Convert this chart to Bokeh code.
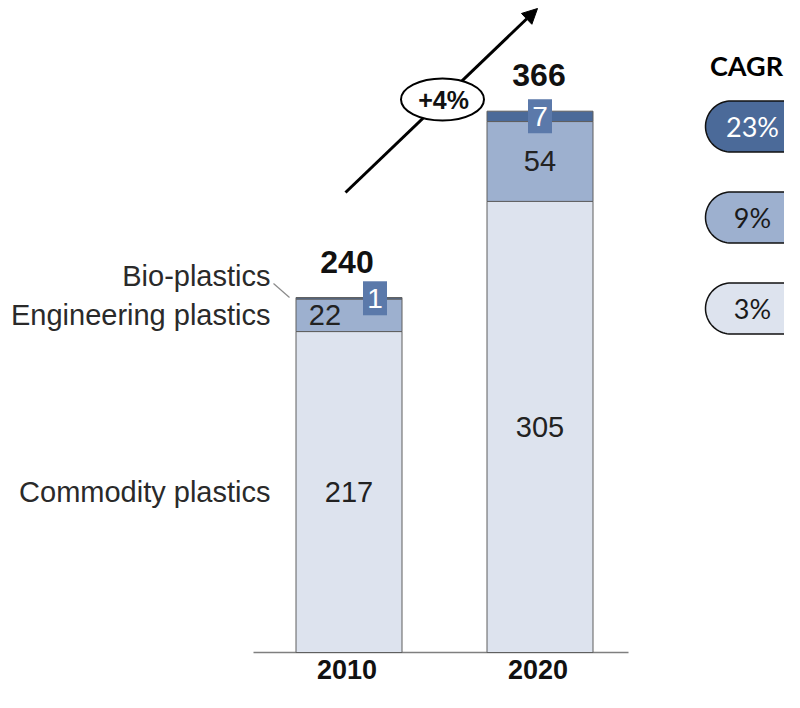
import numpy as np
from bokeh.plotting import figure
from bokeh.models import Range1d, Arrow, NormalHead, ColumnDataSource
from bokeh.core.properties import value
from bokeh.embed import file_html
from bokeh.resources import INLINE

# ---------------- data ----------------
years = ["2010", "2020"]
segment_names = ["Commodity plastics", "Engineering plastics", "Bio-plastics"]
commodity = [217, 305]
engineering = [22, 54]
bio = [1, 7]
totals = [240, 366]
growth_label = "+4%"
cagr_title = "CAGR"
cagr_labels = ["23%", "9%", "3%"]   # bio, engineering, commodity

# ---------------- layout ----------------
W, H = 784, 692
PX = 1.479            # pixels per Mt
BASE = 652            # canvas y of baseline
def v(sy):            # canvas y -> data value
    return (BASE - sy) / PX

FONT = value("Liberation Sans")
CFONT = value("Lato")
C_COM, C_ENG, C_BIO = "#dde3ee", "#9db0cf", "#4b6a99"
C_BOX = "#5b79aa"

p = figure(width=W, height=H, output_backend="svg", toolbar_location=None,
           x_range=Range1d(0, W), y_range=Range1d(v(H), v(0)),
           min_border=0)
p.axis.visible = False
p.xgrid.visible = False
p.ygrid.visible = False
p.outline_line_color = None
p.background_fill_color = "white"

bar_x = [348.5, 539.5]
src = ColumnDataSource(dict(x=bar_x, commodity=commodity, engineering=engineering, bio=bio))

# arrow (under everything)
arrow = Arrow(end=NormalHead(size=15, fill_color="black", line_color="black"),
              x_start=345, y_start=v(192), x_end=537, y_end=v(8),
              line_width=3, line_color="black", level="underlay")
p.add_layout(arrow)

# baseline
p.segment(x0=[253], x1=[628], y0=[0], y1=[0], line_color="#7f7f7f", line_width=1.5)

# stacked bars
p.vbar_stack(["commodity", "engineering", "bio"], x="x", width=106, source=src,
             fill_color=[C_COM, C_ENG, C_BIO], line_color="#5f5f5f", line_width=1)

# segment values
com_mid = [c / 2 for c in commodity]
eng_mid = [c + e / 2 for c, e in zip(commodity, engineering)]
bio_mid = [c + e + b / 2 for c, e, b in zip(commodity, engineering, bio)]
p.text(x=bar_x, y=com_mid, text=[str(c) for c in commodity], text_font=FONT,
       text_font_size="29px", text_color="#222222", text_align="center", text_baseline="middle")
p.text(x=[bar_x[0] - 24, bar_x[1]], y=eng_mid, text=[str(e) for e in engineering], text_font=FONT,
       text_font_size="29px", text_color="#222222", text_align="center", text_baseline="middle")
box_x = [bar_x[0] + 26, bar_x[1]]
p.rect(x=box_x, y=bio_mid, width=24, height=34, width_units="screen", height_units="screen",
       fill_color=C_BOX, line_color=None)
p.text(x=box_x, y=bio_mid, text=[str(b) for b in bio], text_font=FONT,
       text_font_size="28px", text_color="white", text_align="center", text_baseline="middle")

# totals
p.text(x=[bar_x[0] - 2, bar_x[1] - 1], y=totals, y_offset=-36, text=[str(t) for t in totals],
       text_font=FONT, text_font_size="32px", text_font_style="bold", text_color="#111111",
       text_align="center", text_baseline="middle")

# year labels
p.text(x=[bar_x[0] - 2, bar_x[1] - 2], y=[0, 0], y_offset=17, text=years, text_font=FONT,
       text_font_size="27px", text_font_style="bold", text_color="#111111",
       text_align="center", text_baseline="middle")

# left category labels
p.text(x=[270, 270, 270], y=[com_mid[0], eng_mid[0], totals[0]], y_offset=[0, 0, -22],
       text=segment_names, text_font=FONT, text_font_size="29px", text_color="#2a2a2a",
       text_align="right", text_baseline="middle")
p.segment(x0=[273], y0=[totals[0] + 14 / PX], x1=[289], y1=[totals[0]],
          line_color="#8a8a8a", line_width=1.2)

# growth ellipse
p.ellipse(x=[442], y=[v(99)], width=83, height=42, width_units="screen", height_units="screen",
          fill_color="white", line_color="black", line_width=2)
p.text(x=[443], y=[v(99)], text=[growth_label], text_font=FONT, text_font_size="25px",
       text_font_style="bold", text_color="#111111", text_align="center", text_baseline="middle")

# CAGR pills
p.text(x=[746], y=[v(65)], text=[cagr_title], text_font=CFONT, text_font_size="27px",
       text_font_style="bold", text_color="black", text_align="center", text_baseline="middle")
pill_cy = [126, 217, 308]
pill_fill = [C_BIO, C_ENG, C_COM]
pill_text = ["white", "#1a1a1a", "#1a1a1a"]
R = 25.5
L, RR = 705, 830
xs_all, ys_all = [], []
for cy in pill_cy:
    t1 = np.linspace(np.pi / 2, 3 * np.pi / 2, 40)
    t2 = np.linspace(-np.pi / 2, np.pi / 2, 40)
    sx = np.concatenate([L + R + R * np.cos(t1), RR - R + R * np.cos(t2)])
    sy = np.concatenate([cy - R * np.sin(t1), cy - R * np.sin(t2)])
    xs_all.append(list(sx))
    ys_all.append(list(v(sy)))
p.patches(xs=xs_all, ys=ys_all, fill_color=pill_fill, line_color="#111111", line_width=1.5)
p.text(x=[752] * 3, y=[v(c) for c in pill_cy], text=cagr_labels, text_font=CFONT,
       text_font_size="27px", text_color=pill_text, text_align="center", text_baseline="middle")

open("out.html", "w").write(file_html(p, INLINE))
